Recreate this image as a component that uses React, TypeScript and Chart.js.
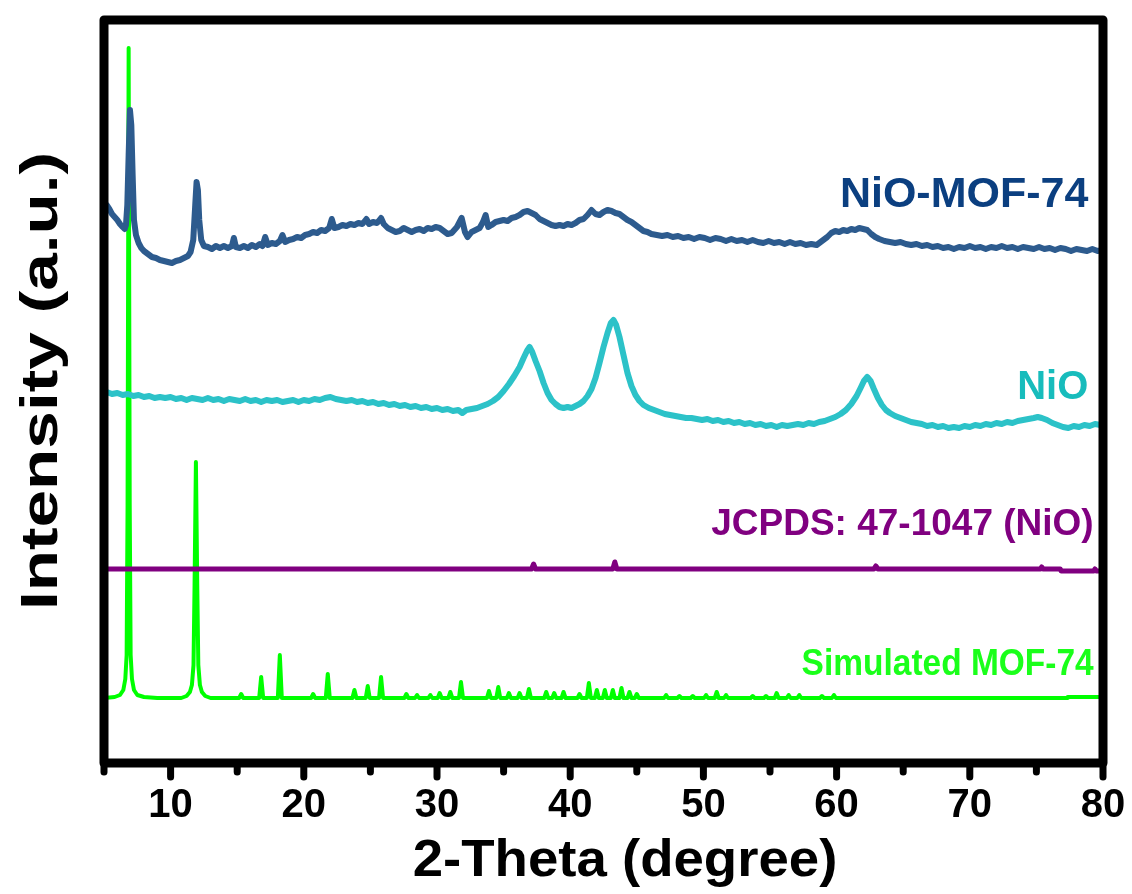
import React, { useEffect, useRef } from "react";
import { Chart, registerables } from "chart.js";

Chart.register(...registerables);

// ---------- data (2θ in degrees, intensity in a.u., curves stacked with offsets) ----------
const nioMof74: [number, number][] = [
  [5.2, 560], [5.4, 556], [5.6, 551], [5.8, 548], [6.0, 545], [6.2, 541], [6.4, 538], [6.55, 536],
  [6.65, 540], [6.75, 560], [6.85, 610], [6.95, 655], [7.05, 640], [7.15, 590], [7.25, 545], [7.4, 530],
  [7.6, 522], [7.8, 517], [8.0, 514], [8.3, 511], [8.6, 508], [8.9, 507], [9.2, 505], [9.5, 504],
  [9.8, 503], [10.1, 502], [10.4, 504], [10.7, 505], [11.0, 507], [11.3, 509], [11.5, 513], [11.7, 525],
  [11.85, 560], [11.95, 583], [12.05, 575], [12.15, 545], [12.3, 525], [12.5, 519], [12.8, 518], [13.1, 516],
  [13.4, 519], [13.7, 517], [14.0, 519], [14.3, 517], [14.6, 519], [14.75, 527], [14.9, 518], [15.2, 517],
  [15.5, 519], [15.8, 517], [16.1, 520], [16.4, 518], [16.7, 521], [16.9, 519], [17.1, 528], [17.3, 520],
  [17.6, 522], [17.9, 521], [18.2, 524], [18.4, 530], [18.6, 523], [18.9, 525], [19.2, 526], [19.5, 528],
  [19.8, 527], [20.1, 530], [20.4, 531], [20.7, 533], [21.0, 532], [21.3, 535], [21.6, 534], [21.9, 537],
  [22.1, 546], [22.3, 537], [22.6, 538], [22.9, 540], [23.2, 539], [23.5, 541], [23.8, 540], [24.1, 542],
  [24.4, 541], [24.7, 546], [24.9, 541], [25.2, 543], [25.5, 542], [25.8, 547], [26.0, 541], [26.3, 537],
  [26.6, 535], [26.9, 533], [27.2, 534], [27.5, 537], [27.8, 535], [28.1, 533], [28.4, 535], [28.7, 536],
  [29.0, 534], [29.3, 537], [29.6, 536], [29.9, 538], [30.2, 537], [30.5, 534], [30.8, 531], [31.1, 532],
  [31.5, 538], [31.85, 547], [32.1, 533], [32.3, 528], [32.6, 533], [32.9, 535], [33.2, 537], [33.45, 543],
  [33.65, 550], [33.85, 538], [34.1, 540], [34.4, 543], [34.7, 544], [35.0, 545], [35.3, 544], [35.6, 547],
  [35.9, 548], [36.2, 550], [36.5, 553], [36.8, 554], [37.1, 552], [37.4, 550], [37.7, 546], [38.0, 544],
  [38.3, 542], [38.6, 540], [38.9, 539], [39.2, 540], [39.5, 539], [39.8, 541], [40.1, 540], [40.4, 542],
  [40.7, 545], [41.0, 546], [41.3, 550], [41.6, 555], [41.9, 551], [42.2, 550], [42.5, 553], [42.8, 555],
  [43.1, 554], [43.4, 552], [43.7, 551], [44.0, 548], [44.3, 545], [44.6, 543], [44.9, 540], [45.2, 537],
  [45.5, 534], [45.8, 533], [46.1, 531], [46.5, 530], [46.9, 529], [47.3, 530], [47.7, 528], [48.1, 529],
  [48.5, 527], [48.9, 528], [49.3, 526], [49.7, 528], [50.1, 527], [50.5, 525], [50.9, 527], [51.3, 526],
  [51.7, 524], [52.1, 526], [52.5, 524], [52.9, 525], [53.3, 523], [53.7, 525], [54.1, 523], [54.5, 522],
  [54.9, 524], [55.3, 522], [55.7, 523], [56.1, 521], [56.5, 523], [56.9, 521], [57.3, 522], [57.7, 520],
  [58.1, 521], [58.5, 520], [58.9, 524], [59.3, 528], [59.6, 532], [59.9, 534], [60.2, 533], [60.5, 535],
  [60.8, 534], [61.1, 536], [61.4, 535], [61.7, 537], [62.0, 536], [62.3, 535], [62.6, 531], [62.9, 528],
  [63.2, 526], [63.6, 524], [64.0, 523], [64.4, 522], [64.8, 523], [65.2, 521], [65.6, 520], [66.0, 521],
  [66.4, 519], [66.8, 520], [67.2, 518], [67.6, 519], [68.0, 517], [68.4, 518], [68.8, 516], [69.2, 518],
  [69.6, 517], [70.0, 519], [70.4, 517], [70.8, 518], [71.2, 516], [71.6, 518], [72.0, 517], [72.4, 519],
  [72.8, 517], [73.2, 518], [73.6, 516], [74.0, 518], [74.4, 517], [74.8, 516], [75.2, 518], [75.6, 516],
  [76.0, 517], [76.4, 515], [76.8, 517], [77.2, 516], [77.6, 514], [78.0, 516], [78.4, 515], [78.8, 514],
  [79.2, 516], [79.6, 514], [80.0, 515],
];

const nio: [number, number][] = [
  [5.2, 373], [5.6, 371], [6.0, 372], [6.4, 370], [6.8, 371], [7.2, 369], [7.6, 370], [8.0, 368],
  [8.4, 369], [8.8, 367], [9.2, 368], [9.6, 367], [10.0, 368], [10.4, 366], [10.8, 367], [11.2, 365],
  [11.6, 367], [12.0, 366], [12.4, 365], [12.8, 367], [13.2, 365], [13.6, 366], [14.0, 364], [14.4, 366],
  [14.8, 365], [15.2, 364], [15.6, 366], [16.0, 364], [16.4, 365], [16.8, 363], [17.2, 365], [17.6, 364],
  [18.0, 365], [18.4, 363], [18.8, 364], [19.2, 365], [19.6, 363], [20.0, 365], [20.4, 364], [20.8, 366],
  [21.2, 365], [21.6, 367], [22.0, 368], [22.4, 366], [22.8, 365], [23.2, 364], [23.6, 365], [24.0, 363],
  [24.4, 364], [24.8, 362], [25.2, 363], [25.6, 361], [26.0, 362], [26.4, 360], [26.8, 361], [27.2, 359],
  [27.6, 360], [28.0, 358], [28.4, 359], [28.8, 357], [29.2, 358], [29.6, 356], [30.0, 357], [30.4, 355],
  [30.8, 356], [31.2, 354], [31.6, 355], [31.9, 352], [32.2, 355], [32.6, 356], [33.0, 357], [33.4, 359],
  [33.8, 361], [34.2, 364], [34.6, 368], [35.0, 374], [35.4, 381], [35.8, 389], [36.2, 398], [36.5, 407],
  [36.75, 414], [36.95, 418], [37.15, 413], [37.4, 404], [37.7, 394], [38.0, 382], [38.3, 372], [38.6, 365],
  [38.9, 361], [39.2, 358], [39.5, 357], [39.8, 358], [40.1, 357], [40.4, 359], [40.7, 361], [41.0, 364],
  [41.3, 369], [41.6, 376], [41.9, 387], [42.2, 402], [42.5, 418], [42.8, 432], [43.05, 442], [43.25, 445],
  [43.45, 440], [43.7, 428], [44.0, 410], [44.3, 392], [44.6, 379], [44.9, 370], [45.2, 364], [45.5, 360],
  [45.9, 357], [46.3, 355], [46.7, 353], [47.1, 351], [47.5, 350], [47.9, 349], [48.3, 348], [48.7, 347],
  [49.1, 347], [49.5, 346], [49.9, 345], [50.3, 346], [50.7, 344], [51.1, 345], [51.5, 343], [51.9, 344],
  [52.3, 342], [52.7, 343], [53.1, 341], [53.5, 342], [53.9, 340], [54.3, 341], [54.7, 339], [55.1, 340],
  [55.5, 338], [55.9, 340], [56.3, 339], [56.7, 340], [57.1, 341], [57.5, 340], [57.9, 342], [58.3, 341],
  [58.7, 343], [59.1, 344], [59.5, 346], [59.9, 348], [60.3, 351], [60.7, 355], [61.1, 361], [61.5, 369],
  [61.8, 377], [62.05, 384], [62.3, 388], [62.55, 384], [62.8, 376], [63.1, 367], [63.4, 360], [63.7, 355],
  [64.0, 352], [64.4, 349], [64.8, 347], [65.2, 345], [65.6, 343], [66.0, 342], [66.4, 341], [66.8, 339],
  [67.2, 340], [67.6, 338], [68.0, 339], [68.4, 337], [68.8, 338], [69.2, 337], [69.6, 339], [70.0, 338],
  [70.4, 340], [70.8, 339], [71.2, 341], [71.6, 340], [72.0, 342], [72.4, 341], [72.8, 343], [73.2, 342],
  [73.6, 344], [74.0, 345], [74.4, 346], [74.8, 347], [75.1, 348], [75.4, 347], [75.8, 345], [76.2, 342],
  [76.6, 340], [77.0, 338], [77.4, 337], [77.8, 339], [78.2, 338], [78.6, 340], [79.0, 339], [79.4, 341],
  [79.8, 340], [80.0, 341],
];

const jcpds: [number, number][] = [
  [5.0, 196], [37.1, 196], [37.25, 201], [37.4, 196], [43.2, 196], [43.35, 203], [43.5, 196],
  [62.8, 196], [62.95, 199], [63.1, 196], [75.3, 196], [75.4, 198], [75.5, 196], [76.8, 196],
  [76.85, 194], [79.3, 194], [79.4, 196], [79.5, 194], [80.0, 194],
];

const simulatedMof74: [number, number][] = [
  [5.0, 67], [5.8, 68], [6.2, 70], [6.45, 75], [6.6, 86], [6.7, 110], [6.77, 260], [6.85, 717],
  [6.93, 260], [7.0, 110], [7.1, 86], [7.25, 75], [7.5, 70], [8.0, 68], [9.0, 67],
  [10.8, 67], [11.2, 69], [11.45, 73], [11.6, 80], [11.72, 100], [11.8, 180], [11.9, 303], [12.0, 180],
  [12.08, 100], [12.2, 80], [12.35, 73], [12.6, 69], [13.0, 67],
  [15.15, 67], [15.3, 71], [15.45, 67], [16.65, 67], [16.8, 88], [16.95, 67], [18.05, 67], [18.2, 110],
  [18.35, 67], [20.55, 67], [20.7, 71], [20.85, 67], [21.65, 67], [21.8, 91], [21.95, 67], [23.65, 67],
  [23.8, 75], [23.95, 67], [24.65, 67], [24.8, 79], [24.95, 67], [25.65, 67], [25.8, 88], [25.95, 67],
  [27.55, 67], [27.7, 71], [27.85, 67], [28.35, 67], [28.5, 70], [28.65, 67], [29.35, 67], [29.5, 70],
  [29.65, 67], [30.05, 67], [30.2, 72], [30.35, 67], [30.85, 67], [31.0, 73], [31.15, 67], [31.65, 67],
  [31.8, 83], [31.95, 67], [33.75, 67], [33.9, 74], [34.05, 67], [34.45, 67], [34.6, 78], [34.75, 67],
  [35.25, 67], [35.4, 72], [35.55, 67], [36.05, 67], [36.2, 72], [36.35, 67], [36.75, 67], [36.9, 76],
  [37.05, 67], [38.05, 67], [38.2, 73], [38.35, 67], [38.65, 67], [38.8, 72], [38.95, 67], [39.35, 67],
  [39.5, 73], [39.65, 67], [40.55, 67], [40.7, 71], [40.85, 67], [41.25, 67], [41.4, 82], [41.55, 67],
  [41.85, 67], [42.0, 75], [42.15, 67], [42.45, 67], [42.6, 75], [42.75, 67], [43.05, 67], [43.2, 75],
  [43.35, 67], [43.7, 67], [43.85, 77], [44.0, 67], [44.3, 67], [44.45, 73], [44.6, 67], [44.85, 67],
  [45.0, 71], [45.15, 67], [47.05, 67], [47.2, 70], [47.35, 67], [48.05, 67], [48.2, 69], [48.35, 67],
  [49.05, 67], [49.2, 69], [49.35, 67], [50.05, 67], [50.2, 70], [50.35, 67], [50.85, 67], [51.0, 73],
  [51.15, 67], [51.55, 67], [51.7, 70], [51.85, 67], [53.55, 67], [53.7, 69], [53.85, 67], [54.55, 67],
  [54.7, 69], [54.85, 67], [55.35, 67], [55.5, 72], [55.65, 67], [56.25, 67], [56.4, 70], [56.55, 67],
  [57.05, 67], [57.2, 70], [57.35, 67], [58.75, 67], [58.9, 69], [59.05, 67], [59.65, 67], [59.8, 70],
  [59.95, 67], [77.3, 67], [77.35, 68], [80.0, 68],
];

const seriesNames = ["NiO-MOF-74", "NiO", "JCPDS: 47-1047 (NiO)", "Simulated MOF-74"];
const xTickValues = [5, 10, 15, 20, 25, 30, 35, 40, 45, 50, 55, 60, 65, 70, 75, 80];
const xTitle = "2-Theta (degree)";
const yTitle = "Intensity (a.u.)";

const FONT = '"Liberation Sans", Arial, Helvetica, sans-serif';

const toXY = (arr: [number, number][]) => arr.map(([x, y]) => ({ x, y }));

export default function App() {
  const canvasRef = useRef<HTMLCanvasElement | null>(null);

  useEffect(() => {
    const canvas = canvasRef.current;
    if (!canvas) return;

    const labelPlugin = {
      id: "seriesLabels",
      afterDatasetsDraw(chart: any) {
        const { ctx, scales } = chart;
        const xs = scales.x;
        const ys = scales.y;
        const items = [
          { text: seriesNames[0], x: 78.9, y: 558, color: "#0b3f80", size: 43, sx: 1 },
          { text: seriesNames[1], x: 78.9, y: 366, color: "#17bcbc", size: 40, sx: 1 },
          { text: seriesNames[2], x: 79.3, y: 230, color: "#800080", size: 37, sx: 1 },
          { text: seriesNames[3], x: 79.3, y: 90, color: "#1aff1a", size: 36, sx: 0.93 },
        ];
        ctx.save();
        ctx.textAlign = "right";
        ctx.textBaseline = "alphabetic";
        for (const it of items) {
          ctx.font = `bold ${it.size}px ${FONT}`;
          ctx.fillStyle = it.color;
          ctx.save();
          ctx.translate(xs.getPixelForValue(it.x), ys.getPixelForValue(it.y));
          ctx.scale(it.sx, 1);
          ctx.fillText(it.text, 0, 0);
          ctx.restore();
        }
        ctx.restore();
      },
    };

    const framePlugin = {
      id: "frameTicks",
      afterDraw(chart: any) {
        const { ctx, chartArea, scales } = chart;
        const { left, top, right, bottom } = chartArea;
        ctx.save();
        ctx.strokeStyle = "#000";
        ctx.lineCap = "round";
        ctx.lineWidth = 7;
        for (const v of xTickValues) {
          const px = scales.x.getPixelForValue(v);
          const major = v % 10 === 0;
          ctx.beginPath();
          ctx.moveTo(px, bottom);
          ctx.lineTo(px, bottom + (major ? 14 : 9));
          ctx.stroke();
        }
        ctx.lineWidth = 9;
        ctx.lineJoin = "round";
        ctx.strokeRect(left, top, right - left, bottom - top);

        // axis titles
        ctx.fillStyle = "#000";
        ctx.textAlign = "center";
        ctx.textBaseline = "middle";
        ctx.font = `bold 52px ${FONT}`;
        ctx.save();
        ctx.translate(625, 862);
        ctx.scale(1.05, 1);
        ctx.fillText(xTitle, 0, 0);
        ctx.restore();

        ctx.font = `bold 52px ${FONT}`;
        ctx.save();
        ctx.translate(43, 381);
        ctx.rotate(-Math.PI / 2);
        ctx.scale(1.3, 1);
        ctx.fillText(yTitle, 0, 0);
        ctx.restore();
        ctx.restore();
      },
    };

    const chart = new Chart(canvas, {
      type: "line",
      data: {
        datasets: [
          {
            label: seriesNames[0],
            data: toXY(nioMof74),
            borderColor: "#2d5b8e",
            borderWidth: 6,
          },
          {
            label: seriesNames[1],
            data: toXY(nio),
            borderColor: "#2cc2c8",
            borderWidth: 6,
          },
          {
            label: seriesNames[2],
            data: toXY(jcpds),
            borderColor: "#800080",
            borderWidth: 5,
          },
          {
            label: seriesNames[3],
            data: toXY(simulatedMof74),
            borderColor: "#00ff00",
            borderWidth: 4,
          },
        ] as any,
      },
      options: {
        animation: false,
        responsive: false,
        devicePixelRatio: 1,
        parsing: false as any,
        elements: {
          point: { radius: 0 },
          line: { tension: 0, borderJoinStyle: "round", borderCapStyle: "round" },
        },
        layout: { padding: { top: 20, right: 29, left: 0, bottom: 0 } },
        plugins: {
          legend: { display: false },
          tooltip: { enabled: false },
        },
        scales: {
          x: {
            type: "linear",
            min: 5,
            max: 80,
            afterFit: (s: any) => {
              s.height = 131;
              s.paddingLeft = 0;
              s.paddingRight = 0;
            },
            afterBuildTicks: (s: any) => {
              s.ticks = xTickValues.map((v) => ({ value: v }));
            },
            grid: { display: false, drawTicks: false },
            border: { display: false },
            ticks: {
              autoSkip: false,
              maxRotation: 0,
              padding: 19,
              color: "#000",
              font: { family: FONT, size: 40, weight: "bold" },
              callback: (v: any) => (Number(v) % 10 === 0 ? String(v) : ""),
            },
            title: { display: false },
          },
          y: {
            type: "linear",
            min: 2,
            max: 745,
            afterFit: (s: any) => {
              s.width = 104;
              s.paddingTop = 0;
              s.paddingBottom = 0;
            },
            grid: { display: false, drawTicks: false },
            border: { display: false },
            ticks: { display: false },
            title: { display: false },
          },
        },
      } as any,
      plugins: [labelPlugin, framePlugin],
    });

    return () => chart.destroy();
  }, []);

  return (
    <div style={{ position: "absolute", left: 0, top: 0, width: 1132, height: 894, background: "#fff" }}>
      <canvas ref={canvasRef} width={1132} height={894} style={{ display: "block", width: 1132, height: 894 }} />
    </div>
  );
}
